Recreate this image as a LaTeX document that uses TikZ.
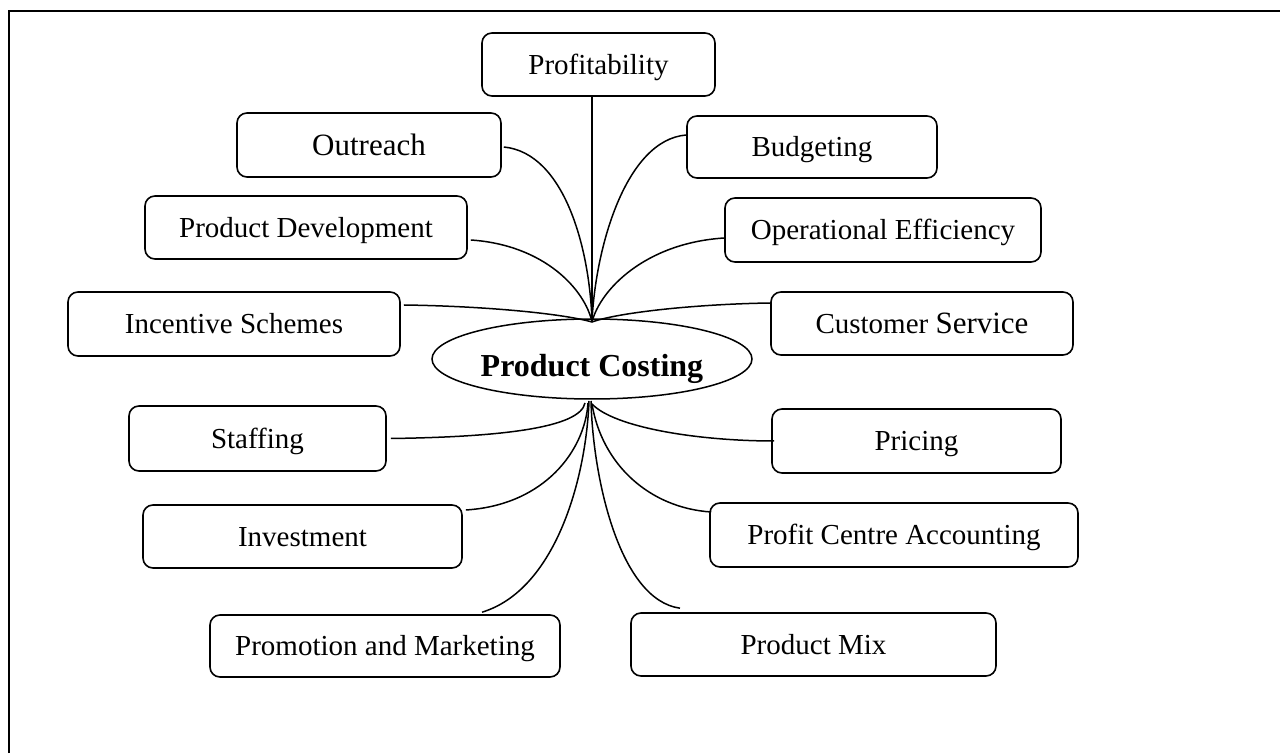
\documentclass[tikz,border=0pt]{standalone}
\usepackage{fontspec}
\setmainfont{Liberation Serif}
\usetikzlibrary{shapes.geometric}
\begin{document}
\begin{tikzpicture}[x=1pt,y=1pt,
  box/.style={draw, rounded corners=10pt, line width=1.6pt, inner sep=0pt,
    text height=19.5pt, text depth=0pt,
    font=\fontsize{29}{34}\selectfont},
  conn/.style={line width=1.5pt},
  frame/.style={line width=2.6pt}]
\useasboundingbox (0,0) rectangle (1280,753);
\draw[frame] (9,0) -- (9,742) -- (1280,742);

% boxes (centre, width, height)
\node[box, minimum width=233pt, minimum height=63pt] (prof) at (598.5,688.5) {Profitability};
\node[box, minimum width=264pt, minimum height=64pt, text height=20.5pt, font=\fontsize{31}{36}\selectfont] (outr) at (369,608) {Outreach};
\node[box, minimum width=250pt, minimum height=62pt] (budg) at (812,606) {Budgeting};
\node[box, minimum width=322pt, minimum height=63pt] (pdev) at (306,525.5) {Product Development};
\node[box, minimum width=316pt, minimum height=64pt] (opef) at (883,523) {Operational Efficiency};
\node[box, minimum width=332pt, minimum height=64pt] (ince) at (234,429) {Incentive Schemes};
\node[box, minimum width=302pt, minimum height=63pt] (cust) at (922,429.5) {Customer {\fontsize{31}{36}\selectfont Service}};
\node[box, minimum width=257pt, minimum height=65pt] (staf) at (257.5,314.5) {Staffing};
\node[box, minimum width=289pt, minimum height=64pt] (pric) at (916.5,312) {Pricing};
\node[box, minimum width=319pt, minimum height=63pt] (inve) at (302.5,216.5) {Investment};
\node[box, minimum width=368pt, minimum height=64pt] (pca) at (894,218) {Profit Centre Accounting};
\node[box, minimum width=350pt, minimum height=62pt] (prom) at (385,107) {Promotion and Marketing};
\node[box, minimum width=365pt, minimum height=63pt] (pmix) at (813.5,108.5) {Product Mix};

% centre
\node[draw, ellipse, line width=1.5pt, inner sep=0pt, minimum width=320pt, minimum height=80pt,
  text height=35pt, text depth=0pt,
  font=\fontsize{32}{38}\selectfont\bfseries] (pc) at (592,394) {Product Costing};

% hubs
\coordinate (hubT) at (592,431);
\coordinate (hbS) at (585,350);
\coordinate (hbI) at (588,350);
\coordinate (hbP) at (589,352);
\coordinate (hbM) at (591,352);
\coordinate (hbR) at (592,349);

% upper connectors
\draw[conn] (hubT |- prof.south) -- (hubT);
\draw[conn] ([xshift=2pt,yshift=-2pt]outr.east) .. controls (565,600) and (590,503) .. (hubT);
\draw[conn] ([yshift=12pt]budg.west) .. controls (625,613) and (595,503) .. (hubT);
\draw[conn] ([xshift=3pt,yshift=-12.5pt]pdev.east) .. controls (545,508) and (585,463) .. (hubT);
\draw[conn] ([yshift=-8pt]opef.west) .. controls (645,510) and (600,463) .. (hubT);
\draw[conn] ([xshift=3pt,yshift=19pt]ince.east) .. controls (480,447) and (560,440) .. (hubT);
\draw[conn] ([yshift=20.5pt]cust.west) .. controls (700,449) and (620,441) .. (hubT);

% lower connectors
\draw[conn] ([xshift=4pt]staf.east) .. controls (500,316) and (580,325) .. (hbS);
\draw[conn] ([xshift=3pt,yshift=26.5pt]inve.east) .. controls (545,248) and (585,303) .. (hbI);
\draw[conn] ([xshift=97pt,yshift=2pt]prom.north) .. controls (555,163) and (586,273) .. (hbP);
\draw[conn] ([xshift=-133.5pt,yshift=4pt]pmix.north) .. controls (620,153) and (593,273) .. (hbM);
\draw[conn] (hbR) .. controls (615,325) and (700,312) .. ([xshift=3pt]pric.west);
\draw[conn] (hbR) .. controls (602,288) and (650,245) .. ([xshift=2pt,yshift=23pt]pca.west);
\end{tikzpicture}
\end{document}
